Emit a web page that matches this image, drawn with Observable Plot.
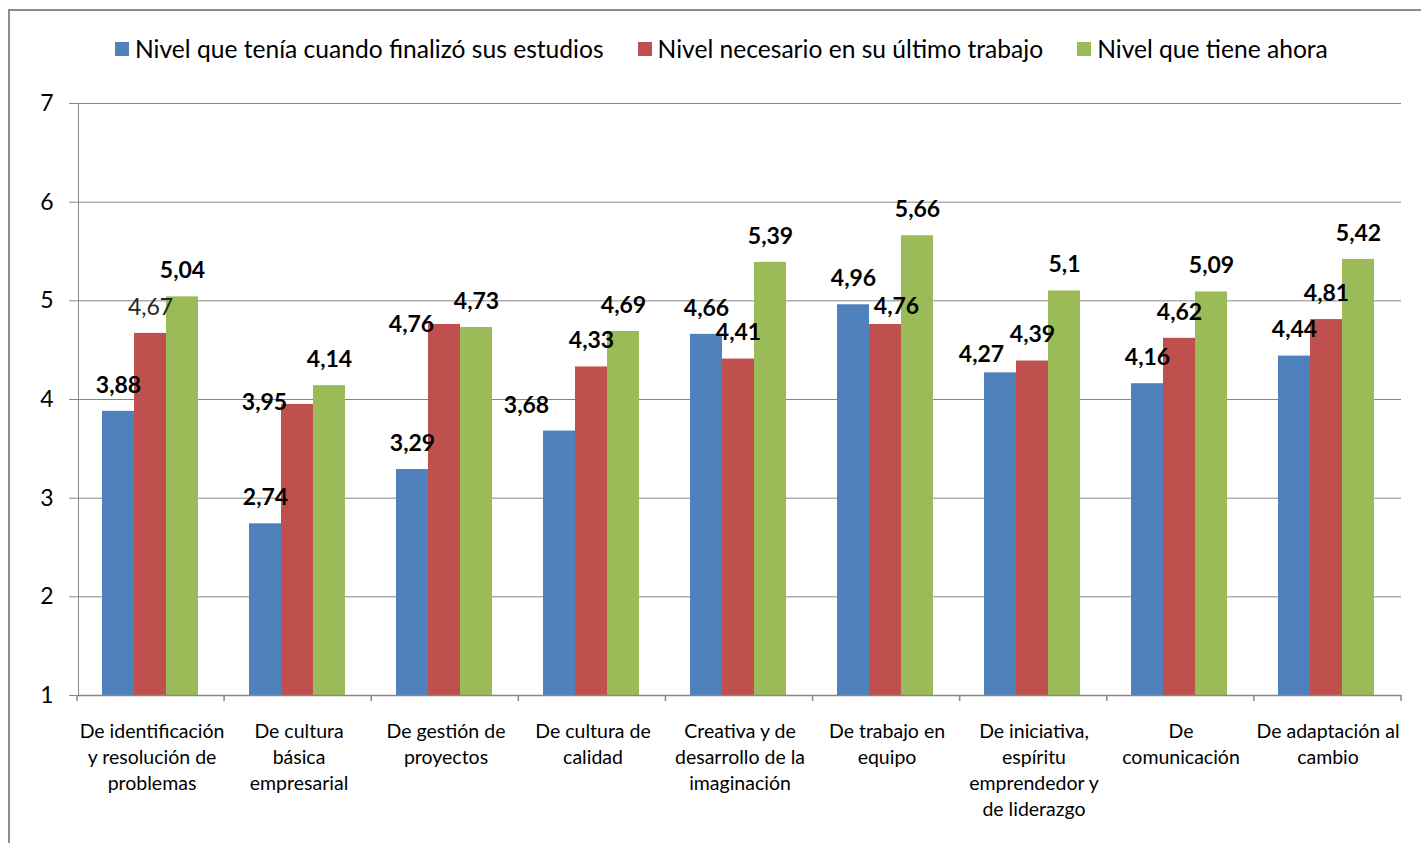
<!DOCTYPE html>
<html>
<head>
<meta charset="utf-8">
<script src="https://cdn.jsdelivr.net/npm/d3@7"></script>
<script src="https://cdn.jsdelivr.net/npm/@observablehq/plot@0.6"></script>
<style>
  html, body { margin: 0; padding: 0; background: #fff; }
  body { width: 1421px; height: 843px; position: relative; overflow: hidden; font-family: Lato, sans-serif; }
  #border { position: absolute; left: 8px; top: 9px; width: 1440px; height: 860px; border: 2px solid #8c8c8c; box-sizing: border-box; }
  #legend { position: absolute; left: 115px; top: 34px; display: flex; align-items: center; font-size: 24.6px; color: #000; white-space: nowrap; }
  .item { display: flex; align-items: center; margin-right: 34px; }
  .sw { width: 14px; height: 14px; margin-right: 6px; }
  #chart { position: absolute; left: 0; top: 80px; }
  #chart g[aria-label^="y-axis"] text { fill: #000; }
</style>
</head>
<body>
<div id="border"></div>
<div id="legend"></div>
<div id="chart"></div>
<script>
const categories = [
  "De identificación y resolución de problemas",
  "De cultura básica empresarial",
  "De gestión de proyectos",
  "De cultura de calidad",
  "Creativa y de desarrollo de la imaginación",
  "De trabajo en equipo",
  "De iniciativa, espíritu emprendedor y de liderazgo",
  "De comunicación",
  "De adaptación al cambio"
];
const categoryLabels = [
  "De identificación\ny resolución de\nproblemas",
  "De cultura\nbásica\nempresarial",
  "De gestión de\nproyectos",
  "De cultura de\ncalidad",
  "Creativa y de\ndesarrollo de la\nimaginación",
  "De trabajo en\nequipo",
  "De iniciativa,\nespíritu\nemprendedor y\nde liderazgo",
  "De\ncomunicación",
  "De adaptación al\ncambio"
];
const series = [
  "Nivel que tenía cuando finalizó sus estudios",
  "Nivel necesario en su último trabajo",
  "Nivel que tiene ahora"
];
const colors = ["#4F81BD", "#C0504D", "#9BBB59"];
const nivelEstudios  = [3.88, 2.74, 3.29, 3.68, 4.66, 4.96, 4.27, 4.16, 4.44];
const nivelNecesario = [4.67, 3.95, 4.76, 4.33, 4.41, 4.76, 4.39, 4.62, 4.81];
const nivelAhora     = [5.04, 4.14, 4.73, 4.69, 5.39, 5.66, 5.10, 5.09, 5.42];
const yTicks = [1, 2, 3, 4, 5, 6, 7];

// label placement adjustments (category index, series index, dx, dy)
const labelNudges = [
  [1, 1, -33, -2],
  [2, 1, -33, 0],
  [3, 0, -33, -25],
  [5, 1, 11, -18],
  [6, 0, -19, -18]
];
const plainLabels = [[0, 1]]; // drawn in regular weight

const valuesBySeries = [nivelEstudios, nivelNecesario, nivelAhora];
const rows = categories.flatMap((c, i) => series.map((s, j) => ({cat: c, serie: s, value: valuesBySeries[j][i], ci: i, si: j})));
const fmt = v => String(v).replace(".", ",");

const isNudged = d => labelNudges.some(n => n[0] === d.ci && n[1] === d.si);
const isPlain = d => plainLabels.some(n => n[0] === d.ci && n[1] === d.si);

// legend
const legend = document.getElementById("legend");
series.forEach((s, j) => {
  const it = document.createElement("div");
  it.className = "item";
  const sw = document.createElement("div");
  sw.className = "sw";
  sw.style.background = colors[j];
  const tx = document.createElement("span");
  tx.textContent = s;
  it.appendChild(sw); it.appendChild(tx);
  legend.appendChild(it);
});

const W = 1421, H = 763;
const plot = Plot.plot({
  width: W,
  height: H,
  marginLeft: 77,
  marginRight: 20,
  marginTop: 23,
  marginBottom: 148,
  style: {fontFamily: "Lato, sans-serif", fontSize: "23px", color: "#878787", background: "transparent", overflow: "visible"},
  fx: {domain: categories, padding: 0, axis: null, label: null},
  x: {domain: series, paddingInner: 0, paddingOuter: 0.74, align: 0.47, axis: null, label: null},
  y: {domain: [1, 7], ticks: yTicks, tickSize: 9, tickPadding: 16, line: true, label: null, tickFormat: d => String(d)},
  color: {domain: series, range: colors},
  marks: [
    Plot.ruleY(yTicks.slice(1), {stroke: "#878787", strokeWidth: 1}),
    Plot.barY(rows, {fx: "cat", x: "serie", y1: 1, y2: "value", fill: "serie"}),
    Plot.ruleY([1], {stroke: "#878787", strokeWidth: 1.5}),
    Plot.text(categories, {fx: d => d, text: (d, i) => categoryLabels[i], frameAnchor: "bottom", lineAnchor: "top", dy: 24, fontSize: 19.5, lineHeight: 1.333, fill: "#000"}),
    Plot.text(rows.filter(d => !isNudged(d) && !isPlain(d)), {fx: "cat", x: "serie", y: "value", text: d => fmt(d.value), dy: -26, fontWeight: "bold", fontSize: 23, fill: "#000"}),
    Plot.text(rows.filter(d => isPlain(d)), {fx: "cat", x: "serie", y: "value", text: d => fmt(d.value), dy: -26, fontWeight: "normal", fontSize: 23, fill: "#262626"}),
    ...labelNudges.map(([ci, si, dx, dy]) =>
      Plot.text(rows.filter(d => d.ci === ci && d.si === si), {fx: "cat", x: "serie", y: "value", text: d => fmt(d.value), dx, dy, fontWeight: "bold", fontSize: 23, fill: "#000"})
    )
  ]
});
document.getElementById("chart").appendChild(plot);

// category boundary ticks below the axis, positioned from the fx scale
const fxs = plot.scale("fx");
const ys = plot.scale("y");
const [r0, r1] = fxs.range;
const n = categories.length;
const yBase = ys.range[0];
const svg = d3.select(plot.tagName.toLowerCase() === "svg" ? plot : plot.querySelector("svg"));
svg.append("g")
  .attr("stroke", "#878787")
  .attr("stroke-width", 1.5)
  .selectAll("line")
  .data(d3.range(n + 1))
  .join("line")
  .attr("x1", i => r0 + i * (r1 - r0) / n)
  .attr("x2", i => r0 + i * (r1 - r0) / n)
  .attr("y1", yBase)
  .attr("y2", yBase + 6);
</script>
</body>
</html>
